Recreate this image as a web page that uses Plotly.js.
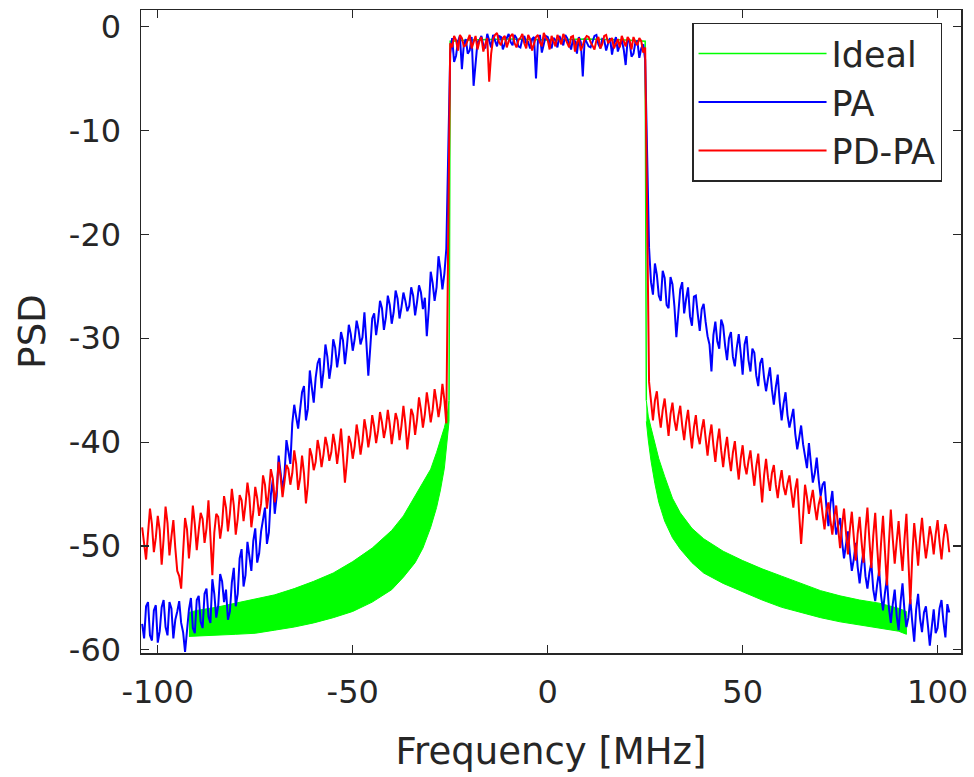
<!DOCTYPE html>
<html>
<head>
<meta charset="utf-8">
<script src="https://cdn.plot.ly/plotly-3.0.1.min.js"></script>
<style>html,body{margin:0;padding:0;background:#fff;}#chart{width:974px;height:777px;}</style>
</head>
<body>
<div id="chart"></div>
<script>
// Frequency bins (MHz): whole-MHz bins and the half-MHz bins between them
function grid(a, b) { const g = []; for (let f = a; f <= b + 1e-9; f += 1) g.push(f); return g; }
const freqLeft = grid(-104, -26),       freqPass = grid(-25, 25),       freqRight = grid(26, 103);
const freqLeftHalf = grid(-103.5, -26.5), freqPassHalf = grid(-24.5, 24.5), freqRightHalf = grid(26.5, 102.5);

// PA (blue) PSD values
const paLeft = [-57.5,-55.8,-58.6,-56.2,-59.3,-55.9,-57.8,-55.4,-58.9,-56.3,
  -57.4,-60.2,-56.1,-57.9,-55.2,-57.3,-54.6,-56.8,-53.2,-56.9,
  -52.7,-55.4,-57.1,-53.5,-55.8,-51.2,-53.9,-49.6,-52.4,-48.3,
  -50.7,-47.2,-49.8,-45.1,-46.9,-41.3,-44.6,-39.8,-42.1,-36.4,
  -38.7,-35.2,-37.9,-33.1,-36.2,-32.4,-34.8,-30.6,-33.9,-30.1,
  -32.8,-29.4,-32.5,-28.7,-31.2,-28.3,-30.6,-27.5,-33.6,-28.1,
  -29.7,-26.4,-29.2,-25.9,-28.6,-25.4,-28.1,-25.6,-27.4,-25.1,
  -27.8,-24.9,-27.2,-29.8,-23.6,-26.4,-22.1,-25.3,-21.4];
const paLeftHalf = [-58.9,-55.4,-59.1,-55.7,-58.2,-55.2,-58.6,-56.0,-57.1,-55.3,
  -58.3,-57.8,-55.0,-58.4,-54.8,-57.9,-54.1,-57.4,-54.6,-55.8,
  -53.4,-54.2,-56.3,-52.1,-54.6,-50.3,-52.8,-51.0,-49.5,-51.6,
  -48.6,-46.3,-48.7,-43.6,-45.2,-42.8,-43.1,-40.9,-38.2,-37.6,
  -36.9,-34.6,-36.8,-34.7,-33.8,-31.9,-33.2,-31.8,-32.6,-30.9,
  -31.5,-30.2,-30.8,-29.6,-30.1,-29.2,-29.9,-30.4,-30.9,-27.6,
  -28.3,-27.1,-28.0,-26.8,-27.5,-26.2,-27.0,-26.4,-26.9,-25.9,
  -26.5,-25.6,-26.1,-27.2,-24.7,-25.1,-23.4,-23.8];
const paPass = [-2.6,-3.4,-1.4,-4.1,-1.2,-2.3,-5.7,-1.5,-0.9,-2.1,
  -1.3,-0.8,-1.9,-1.0,-1.6,-0.7,-1.8,-1.1,-2.0,-0.9,
  -1.5,-1.2,-5.0,-0.8,-1.7,-1.0,-2.1,-1.3,-0.9,-1.8,
  -1.1,-2.2,-1.4,-1.0,-4.8,-1.5,-2.0,-0.9,-1.7,-1.2,
  -2.3,-1.1,-1.6,-2.4,-1.3,-3.7,-1.5,-2.6,-1.4,-2.1,
  -3.2];
const paPassHalf = [-1.1,-2.8,-0.9,-1.7,-2.6,-1.0,-3.1,-1.3,-1.8,-0.7,
  -2.0,-1.4,-0.9,-2.2,-1.1,-1.5,-0.8,-1.9,-1.2,-1.6,
  -2.1,-1.0,-1.4,-2.5,-0.9,-1.6,-1.1,-2.0,-1.3,-0.8,
  -1.7,-1.2,-2.6,-1.5,-1.1,-1.9,-1.4,-0.8,-2.1,-1.3,
  -1.6,-2.7,-1.0,-1.8,-2.2,-1.2,-2.9,-1.5,-3.0,-1.7];
const paRight = [-21.3,-25.8,-23.9,-26.4,-24.2,-27.1,-24.8,-29.9,-25.3,-27.6,
  -25.1,-28.8,-25.9,-29.3,-26.7,-29.8,-33.2,-28.4,-31.0,-28.8,
  -32.1,-29.4,-32.7,-29.6,-33.5,-29.8,-33.2,-31.4,-34.6,-31.9,
  -35.1,-32.8,-36.4,-33.5,-37.9,-35.2,-38.6,-36.8,-40.7,-38.4,
  -41.6,-40.1,-43.9,-41.5,-45.2,-43.8,-48.1,-44.7,-48.9,-47.3,
  -51.2,-48.6,-52.4,-49.7,-53.6,-50.5,-54.1,-51.6,-55.3,-52.4,
  -56.2,-53.1,-57.4,-54.2,-58.1,-53.6,-57.8,-55.1,-59.2,-54.6,
  -58.3,-55.8,-59.6,-56.1,-57.9,-55.2,-58.8,-56.4];
const paRightHalf = [-24.6,-22.8,-25.9,-23.5,-26.8,-24.1,-26.9,-27.4,-24.6,-26.2,
  -27.9,-26.0,-27.7,-27.2,-28.4,-30.6,-29.7,-30.3,-28.2,-30.7,
  -30.0,-31.8,-30.9,-31.4,-30.6,-32.1,-31.0,-33.6,-32.4,-33.8,
  -33.9,-34.9,-34.7,-36.1,-36.3,-37.4,-37.7,-39.2,-39.6,-40.2,
  -42.5,-41.9,-43.0,-43.6,-44.1,-46.3,-46.0,-47.2,-48.0,-49.6,
  -49.9,-50.7,-51.3,-52.0,-51.8,-52.9,-52.6,-54.2,-53.7,-54.8,
  -54.5,-55.9,-55.6,-56.7,-55.4,-56.2,-56.9,-57.3,-56.1,-57.0,
  -56.4,-57.6,-57.8,-58.4,-56.0,-57.3,-55.6];

// PD-PA (red) PSD values
const pdLeft = [-48.2,-51.3,-46.4,-50.6,-47.1,-51.8,-46.2,-50.9,-47.5,-52.4,
  -54.1,-47.3,-51.2,-46.1,-50.4,-46.8,-49.7,-45.6,-52.8,-46.9,
  -49.3,-45.2,-48.6,-44.5,-48.9,-45.1,-47.6,-43.9,-48.2,-44.3,
  -47.1,-43.2,-46.4,-42.6,-45.8,-41.9,-45.3,-42.2,-44.1,-40.8,
  -44.6,-41.3,-45.9,-40.6,-42.7,-39.8,-42.4,-39.5,-41.8,-39.2,
  -42.1,-38.7,-43.9,-39.4,-41.6,-38.3,-41.2,-37.8,-40.5,-37.4,
  -40.1,-37.1,-39.6,-36.9,-40.2,-37.2,-39.8,-36.5,-40.7,-36.8,
  -39.3,-35.7,-38.6,-35.2,-38.1,-34.9,-37.6,-34.4,-38.2];
const pdLeftHalf = [-49.6,-48.8,-47.9,-49.2,-48.5,-49.3,-47.8,-49.1,-50.2,-52.9,
  -50.6,-48.4,-49.0,-47.9,-48.5,-47.4,-48.3,-49.1,-48.7,-47.2,
  -47.9,-46.3,-46.9,-46.1,-47.4,-45.6,-46.0,-45.3,-46.7,-45.4,
  -45.9,-44.1,-44.8,-43.5,-44.6,-43.3,-43.8,-42.6,-43.0,-42.1,
  -43.5,-43.0,-44.1,-41.3,-41.9,-40.8,-41.2,-40.4,-41.0,-40.3,
  -40.6,-41.2,-41.9,-40.1,-40.4,-39.5,-39.9,-38.9,-39.3,-38.5,
  -38.9,-38.1,-38.6,-38.3,-38.8,-37.9,-38.4,-38.2,-39.0,-37.4,
  -37.8,-36.9,-37.3,-36.5,-36.9,-36.1,-36.4,-35.9];
const pdPass = [-1.6,-0.9,-2.3,-1.1,-1.8,-0.8,-1.5,-2.2,-1.0,-1.7,
  -5.3,-1.2,-0.6,-1.8,-0.9,-1.4,-0.7,-2.0,-1.1,-1.6,
  -0.8,-2.3,-1.0,-1.5,-0.6,-1.3,-0.9,-1.9,-1.2,-0.7,
  -1.6,-1.0,-2.4,-1.1,-1.8,-0.9,-1.5,-2.2,-1.0,-1.7,
  -0.8,-1.4,-2.1,-1.2,-0.9,-1.9,-1.3,-1.0,-1.8,-1.4,
  -2.0];
const pdPassHalf = [-2.0,-1.3,-0.8,-1.9,-1.2,-2.1,-0.9,-1.4,-2.4,-1.1,
  -2.6,-0.8,-1.5,-1.1,-2.0,-0.9,-1.6,-1.3,-0.7,-2.1,
  -1.2,-1.6,-0.8,-1.9,-1.1,-2.2,-1.4,-0.8,-1.7,-1.2,
  -2.0,-0.9,-1.5,-2.3,-1.2,-1.0,-1.8,-1.3,-2.1,-0.9,
  -1.6,-1.1,-1.7,-2.0,-1.4,-1.0,-2.2,-1.5,-1.1,-2.5];
const pdRight = [-34.2,-37.9,-35.1,-38.6,-35.8,-39.4,-36.2,-38.9,-36.5,-39.8,
  -36.9,-40.6,-37.4,-40.2,-37.8,-41.3,-38.3,-41.9,-38.7,-42.4,
  -39.5,-42.8,-39.9,-43.6,-40.3,-43.1,-40.8,-44.2,-41.1,-45.8,
  -41.6,-44.7,-42.2,-45.4,-42.7,-45.1,-43.2,-46.3,-43.5,-49.8,
  -44.1,-46.9,-44.6,-47.5,-45.2,-48.4,-45.8,-48.9,-46.1,-50.2,
  -46.4,-50.8,-46.7,-51.4,-47.2,-51.6,-46.3,-52.1,-46.8,-52.9,
  -47.1,-53.8,-46.5,-51.7,-47.6,-52.4,-46.9,-55.6,-47.8,-51.9,
  -47.3,-51.2,-48.1,-50.8,-47.5,-51.3,-47.9,-50.6];
const pdRightHalf = [-36.4,-36.0,-37.2,-36.9,-37.6,-37.3,-37.9,-37.5,-38.4,-38.1,
  -38.9,-38.6,-39.3,-38.8,-39.6,-39.5,-40.3,-40.0,-40.8,-40.7,
  -41.4,-41.0,-41.9,-41.6,-42.2,-41.8,-42.6,-42.3,-43.5,-43.2,
  -43.4,-43.0,-44.1,-43.8,-44.3,-44.0,-44.8,-44.5,-46.9,-47.1,
  -45.3,-45.6,-46.2,-46.0,-46.9,-46.6,-47.5,-47.2,-48.3,-48.0,
  -48.7,-48.4,-49.1,-48.8,-49.6,-48.5,-49.4,-49.0,-50.1,-49.7,
  -50.5,-49.8,-49.3,-49.6,-50.2,-49.4,-51.3,-51.0,-49.7,-49.2,
  -49.5,-49.8,-49.1,-48.9,-49.6,-49.3,-48.8];

// Ideal (green) spectrum: ripple band envelopes in the sidebands, flat passband
const idealLeftF     = [-92,-90,-85,-80,-75,-70,-65,-60,-55,-50,-45,-40,-37,-34,-32,-30,-28.5,-27.5,-26.5,-25.8,-25.3];
const idealLeftUpper = [-56.4,-56.2,-55.9,-55.5,-55.1,-54.7,-54.1,-53.4,-52.6,-51.5,-50.2,-48.5,-47.1,-45.2,-44.0,-42.6,-41.0,-39.8,-38.6,-37.5,-36.0];
const idealLeftLower = [-58.7,-58.7,-58.6,-58.5,-58.4,-58.1,-57.8,-57.4,-56.9,-56.3,-55.4,-54.2,-53.0,-51.6,-50.2,-48.2,-46.3,-44.6,-42.5,-40.0,-38.0];
const idealRightF     = [25.3,25.8,26.5,27.5,28.5,30,32,34,37,40,45,50,55,60,65,70,75,80,85,90,92];
const idealRightUpper = [-36.0,-37.5,-38.6,-40.2,-41.6,-43.3,-45.4,-46.8,-48.3,-49.3,-50.5,-51.4,-52.2,-52.9,-53.6,-54.3,-54.8,-55.2,-55.5,-56.0,-56.3];
const idealRightLower = [-38.0,-39.8,-41.8,-44.0,-45.8,-47.6,-49.2,-50.3,-51.6,-52.6,-53.6,-54.4,-55.2,-55.9,-56.4,-56.9,-57.3,-57.6,-57.9,-58.2,-58.5];
const idealPassF = [-25.3,-25,-20,-10,0,10,20,25,25.3];
const idealPassV = [-36,-1.4,-1.3,-1.2,-1.3,-1.2,-1.3,-1.4,-36];

const xTicks = [-100,-50,0,50,100];
const yTicks = [0,-10,-20,-30,-40,-50,-60];
const seriesNames = ['Ideal','PA','PD-PA'];

const GREEN = '#00ff00', BLUE = '#0000ff', RED = '#ff0000', INK = '#262626';
const FONT = 'DejaVu Sans, Arial, sans-serif';

// merge whole- and half-MHz readings into one frequency-ordered series
function merge(fs, vs) {
  const pts = [];
  fs.forEach((f, k) => f.forEach((x, i) => { if (vs[k][i] !== undefined) pts.push([x, vs[k][i]]); }));
  pts.sort((a, b) => a[0] - b[0]);
  return { x: pts.map(p => p[0]), y: pts.map(p => p[1]) };
}
const allF = [freqLeft, freqLeftHalf, freqPass, freqPassHalf, freqRight, freqRightHalf];
const pa = merge(allF, [paLeft, paLeftHalf, paPass, paPassHalf, paRight, paRightHalf]);
const pd = merge(allF, [pdLeft, pdLeftHalf, pdPass, pdPassHalf, pdRight, pdRightHalf]);

function band(f, up, lo) {
  return { x: f.concat(f.slice().reverse()), y: up.concat(lo.slice().reverse()) };
}
const bl = band(idealLeftF, idealLeftUpper, idealLeftLower);
const br = band(idealRightF, idealRightUpper, idealRightLower);

const traces = [
  { x: bl.x, y: bl.y, type: 'scatter', mode: 'lines', fill: 'toself', fillcolor: GREEN,
    line: { color: GREEN, width: 1 }, showlegend: false, legendgroup: 'ideal', hoverinfo: 'skip' },
  { x: br.x, y: br.y, type: 'scatter', mode: 'lines', fill: 'toself', fillcolor: GREEN,
    line: { color: GREEN, width: 1 }, showlegend: false, legendgroup: 'ideal', hoverinfo: 'skip' },
  { x: idealPassF, y: idealPassV, type: 'scatter', mode: 'lines', name: seriesNames[0],
    legendgroup: 'ideal', line: { color: GREEN, width: 1.5 } },
  { x: pa.x, y: pa.y, type: 'scatter', mode: 'lines', name: seriesNames[1], line: { color: BLUE, width: 2 } },
  { x: pd.x, y: pd.y, type: 'scatter', mode: 'lines', name: seriesNames[2], line: { color: RED, width: 2 } }
];

const axisCommon = {
  showgrid: false, zeroline: false, showline: true, mirror: 'ticks',
  linecolor: INK, linewidth: 1.5, ticks: 'inside', ticklen: 8, tickwidth: 1.2, tickcolor: INK,
  tickfont: { family: FONT, size: 32, color: INK }
};

const layout = {
  width: 974, height: 777,
  margin: { l: 141, r: 13, t: 10, b: 124 },
  paper_bgcolor: '#ffffff', plot_bgcolor: '#ffffff',
  showlegend: true,
  xaxis: Object.assign({}, axisCommon, {
    range: [-104.3, 106], tickmode: 'array', tickvals: xTicks, ticktext: xTicks.map(String),
    ticklabelstandoff: 10,
    title: { text: 'Frequency [MHz]', font: { family: FONT, size: 37, color: INK }, standoff: 28 }
  }),
  yaxis: Object.assign({}, axisCommon, {
    range: [-60.3, 1.6], tickmode: 'array', tickvals: yTicks, ticktext: yTicks.map(String),
    ticklabelstandoff: 12,
    title: { text: 'PSD', font: { family: FONT, size: 37, color: INK }, standoff: 12 }
  }),
  legend: {
    x: 0.672, y: 0.98, xanchor: 'left', yanchor: 'top',
    bgcolor: '#ffffff', bordercolor: INK, borderwidth: 1.5,
    font: { family: FONT, size: 35, color: INK },
    itemwidth: 128, traceorder: 'normal'
  }
};

Plotly.newPlot('chart', traces, layout, { displayModeBar: false, staticPlot: true });
</script>
</body>
</html>
